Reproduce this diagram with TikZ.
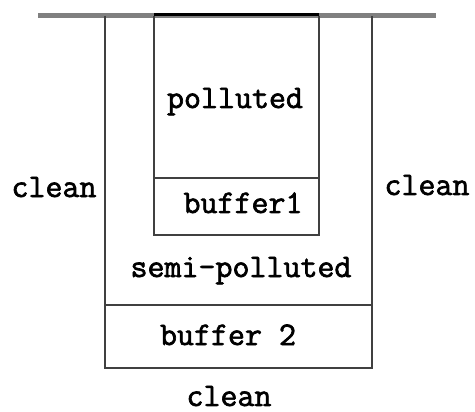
\documentclass[tikz,border=0pt]{standalone}
\usepackage{fontspec}
\newfontfamily\lblfont{Latin Modern Mono}[FakeBold=2]
\begin{document}
\begin{tikzpicture}[x=1pt,y=-1pt,
  wall/.style={draw=black!75,line width=1.6pt},
  lbl/.style={font=\lblfont\fontsize{33}{35}\selectfont,anchor=base,inner sep=0pt}]
\useasboundingbox (0,0) rectangle (475,412);
\coordinate (gl) at (38,16);
\coordinate (gr) at (436,16);
\draw[line width=5pt,draw=black!50] (gl) -- (gr);
% outer box
\coordinate (ob1) at (105,305);
\coordinate (ob2) at (372,305);
\draw[wall] (105,16) -- (105,368) -- (372,368) -- (372,16);
\draw[wall] (ob1) -- (ob2);
% inner box
\coordinate (ib1) at (154,178);
\coordinate (ib2) at (319,178);
\draw[wall] (154,16) -- (154,235) -- (319,235) -- (319,16);
\draw[line width=3pt,black] (154,15) -- (319,15);
\draw[wall] (ib1) -- (ib2);
% labels
\node[lbl] (pol) at (235,108) {polluted};
\node[lbl] (b1) at (243,213) {buffer1};
\node[lbl] (semi) at (241,277) {semi-polluted};
\node[lbl] (b2) at (228,345) {buffer 2};
\node[lbl] (cl) at (54,197) {clean};
\node[lbl] (cr) at (427,195) {clean};
\node[lbl] (cb) at (229,406) {clean};
\end{tikzpicture}
\end{document}
